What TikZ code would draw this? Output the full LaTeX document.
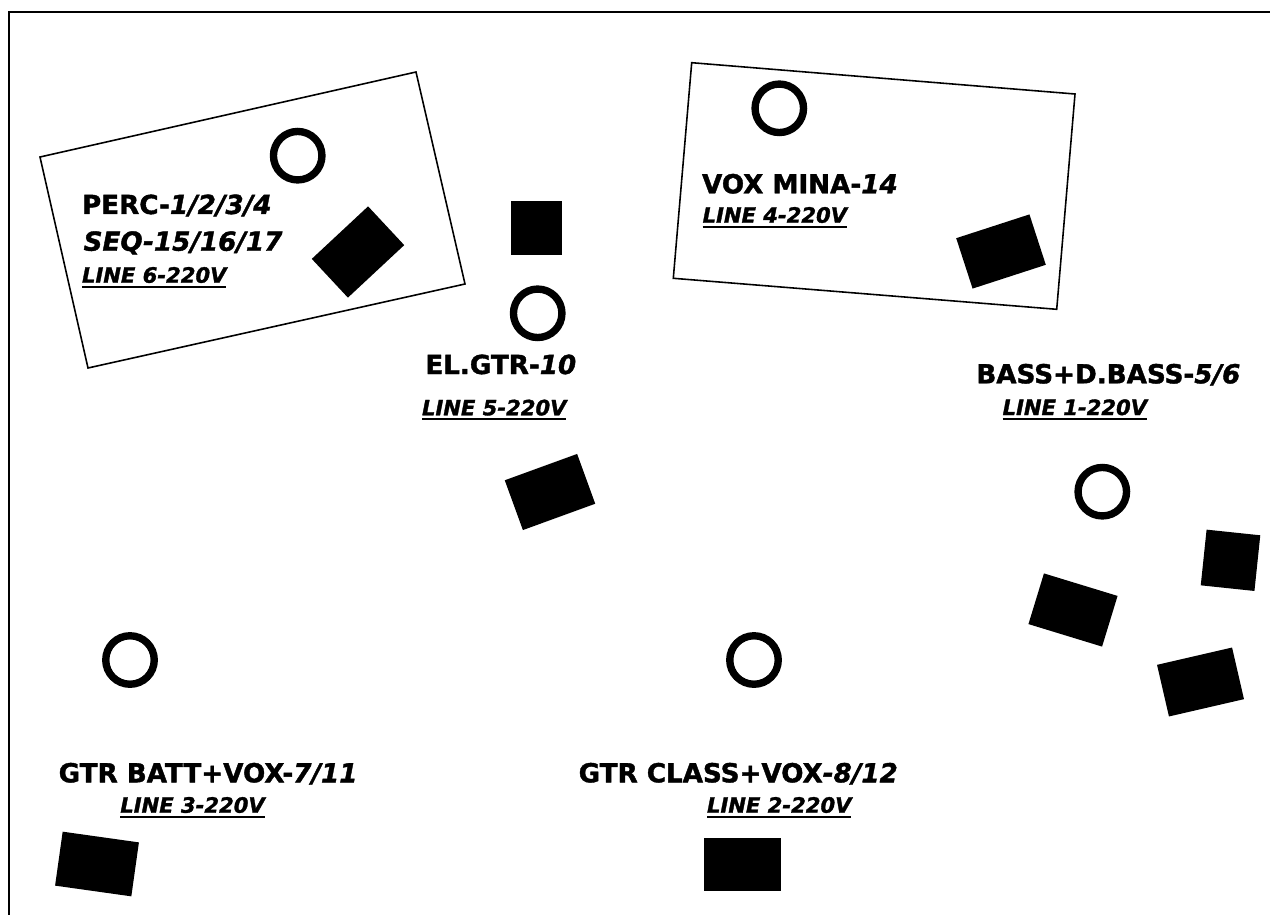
\documentclass[tikz,border=0pt]{standalone}
\usepackage{fontspec}
\setmainfont[BoldFeatures={FakeBold=1.5}, BoldItalicFeatures={FakeBold=1.5}]{DejaVu Sans}

\newcommand{\pwrline}[1]{\setbox0=\hbox{#1}\rlap{\rule[-2.8pt]{\wd0}{1.1pt}}\box0}

\tikzset{
    zone/.style={draw=black, line width=0.9pt},
    wedge/.style={fill=black, inner sep=0pt, minimum width=1.54cm, minimum height=1.06cm},
    spot/.style={circle, draw=black, line width=4.2pt, inner sep=0pt, minimum size=0.97cm},
    lbl/.style={anchor=base west, inner sep=0pt, font=\fontsize{14.9}{17}\selectfont\bfseries},
    pwr/.style={anchor=base west, inner sep=0pt, font=\fontsize{12}{14}\selectfont\bfseries\itshape}
}

\begin{document}
\begin{tikzpicture}[x=0.02cm, y=-0.02cm]
        \useasboundingbox (0,0) rectangle (1270,915);
        \draw[line width=1.1pt] (1270,12) -- (9,12) -- (9,915);

        % riser zones
        \draw[zone] (40,157) -- (416,72) -- (465,284) -- (88,368) -- cycle;
        \draw[zone] (691.7,62.7) -- (1075,94) -- (1056.7,309.3) -- (673.3,278.3) -- cycle;

        % mic positions
        \node[spot] (micPerc) at (297.7,155.7) {};
        \node[spot] (micVox) at (779.3,108.3) {};
        \node[spot] (micEl) at (537.7,313.3) {};
        \node[spot] (micBass) at (1102.3,491.7) {};
        \node[spot] (micBatt) at (130,660) {};
        \node[spot] (micClass) at (754,660) {};

        % monitors and amps
        \node[wedge, rotate=43] (wdgPerc) at (358,252) {};
        \node[wedge, rotate=18] (wdgVox) at (1001,251.5) {};
        \node[wedge, minimum width=1.02cm, minimum height=1.08cm] (ampEl) at (536.3,228) {};
        \node[wedge, rotate=20] (wdgEl) at (550,492) {};
        \node[wedge, rotate=-6, minimum width=1.08cm, minimum height=1.12cm] (ampBass) at (1230.5,560.3) {};
        \node[wedge, rotate=-17] (wdgBassL) at (1073,610) {};
        \node[wedge, rotate=13] (wdgBassR) at (1200.5,682) {};
        \node[wedge, rotate=-8, minimum height=1.09cm] (wdgBatt) at (97,864) {};
        \node[wedge] (wdgClass) at (742,864) {};

        % labels
        \node[lbl] (perc) at (81.7,214) {PERC-\textit{1/2/3/4}};
        \node[lbl] (seq) at (83.3,250.7) {\textit{SEQ-15/16/17}};
        \node[pwr] (line6) at (81.7,282.7) {\pwrline{LINE 6-220V}};
        \node[lbl] (voxmina) at (701.7,193.3) {VOX MINA-\textit{14}};
        \node[pwr] (line4) at (702.3,222.7) {\pwrline{LINE 4-220V}};
        \node[lbl] (elgtr) at (425,374) {EL.GTR-\textit{10}};
        \node[pwr] (line5) at (421.7,415.3) {\pwrline{LINE 5-220V}};
        \node[lbl] (bass) at (976,383.3) {BASS+D.BASS-\textit{5/6}};
        \node[pwr] (line1) at (1002.3,415) {\pwrline{LINE 1-220V}};
        \node[lbl] (gtrbatt) at (58.3,782.3) {GTR BATT+VOX-\textit{7/11}};
        \node[pwr] (line3) at (120,812.7) {\pwrline{LINE 3-220V}};
        \node[lbl] (gtrclass) at (578.3,782.3) {GTR CLASS+VOX\textit{-8/12}};
        \node[pwr] (line2) at (706.7,812.7) {\pwrline{LINE 2-220V}};
\end{tikzpicture}
\end{document}
